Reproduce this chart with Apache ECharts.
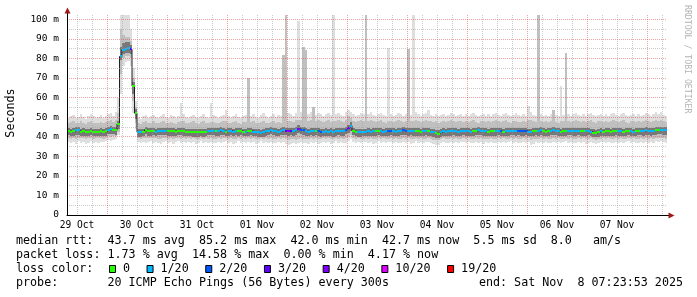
<!DOCTYPE html>
<html><head><meta charset="utf-8">
<script src="https://cdn.jsdelivr.net/npm/echarts@6/dist/echarts.min.js"></script>
<style>html,body{margin:0;padding:0;background:#fff}#c{width:697px;height:297px}</style>
</head><body><div id="c"></div>
<script>
// time axis in hours since 29 Oct 00:00, one value per hour
const startHour = 8;
const endHour = 248;
const dayLabels = ['29 Oct','30 Oct','31 Oct','01 Nov','02 Nov','03 Nov','04 Nov','05 Nov','06 Nov','07 Nov'];
const yLabelValues = [0,10,20,30,40,50,60,70,80,90,100];

const median = [
43.0,42.6,42.8,43.3,43.2,42.6,42.8,42.4,42.6,42.9,42.5,42.4,
42.6,42.8,42.5,42.7,43.6,43.7,43.4,43.3,46.5,81.0,84.5,85.0,
85.2,84.6,66.0,52.0,42.3,42.2,42.4,43.5,42.8,42.7,42.9,42.6,
43.0,43.1,42.9,43.0,42.8,42.7,42.8,42.6,42.9,43.0,42.8,42.6,
42.5,42.4,42.2,42.3,42.2,42.4,42.3,42.6,43.0,43.1,42.9,42.7,
42.8,43.2,43.0,42.6,42.8,43.0,42.6,42.9,42.7,43.0,42.6,42.4,
42.8,43.0,42.6,42.5,42.2,42.0,42.3,42.8,42.9,43.4,43.0,42.8,
42.6,42.9,43.2,43.0,42.9,43.1,42.8,43.4,44.2,43.6,43.2,42.8,
42.6,43.0,42.8,43.0,42.7,42.4,42.6,42.8,42.5,42.7,42.4,42.8,
43.0,42.8,42.9,43.6,44.6,45.6,43.0,42.6,42.2,42.4,42.6,42.5,
42.8,42.6,42.7,42.9,43.0,42.8,42.6,42.7,42.9,43.0,42.8,42.6,
42.9,43.0,43.2,43.1,42.8,43.0,42.8,42.9,42.7,42.6,42.8,43.0,
42.8,42.6,42.4,41.8,41.6,42.4,42.8,42.6,42.9,42.8,43.0,42.7,
42.6,42.8,43.0,42.9,42.7,42.5,42.8,43.0,43.2,43.0,42.8,42.7,
42.5,42.8,42.7,42.9,43.0,42.8,42.6,42.8,42.9,43.1,43.0,42.8,
43.0,42.8,42.9,43.0,42.6,42.5,42.8,43.0,42.9,43.2,42.8,42.6,
42.9,43.0,43.3,43.1,42.9,42.6,42.8,42.7,43.0,43.1,42.8,42.9,
43.0,42.7,42.9,42.8,43.0,42.6,42.1,41.9,42.3,42.8,42.6,42.7,
42.8,42.6,42.9,43.0,42.7,42.8,42.6,42.9,43.0,42.8,42.6,42.9,
43.0,43.1,42.9,43.2,43.0,42.8,43.0,43.3,43.5,43.6,43.4,43.3];

// lost pings out of 20
const lossCount = [
0,0,0,1,1,0,0,0,0,0,0,0,
0,0,0,0,1,1,0,0,0,1,1,1,
1,3,0,0,1,1,0,0,0,0,0,1,
1,1,1,1,0,0,0,0,0,0,0,0,
0,0,0,0,0,0,0,0,1,1,1,0,
1,1,1,0,1,1,1,1,0,0,0,1,
0,0,1,1,1,1,1,1,1,1,1,1,
1,1,1,3,4,3,1,1,4,2,2,1,
1,1,1,0,2,2,1,1,1,1,1,1,
1,1,1,2,3,1,0,0,1,1,1,1,
1,1,1,0,0,1,1,1,2,2,1,1,
1,1,2,2,1,1,1,0,0,0,1,1,
0,1,1,0,0,1,1,1,1,1,1,1,
1,1,1,1,1,1,0,0,1,1,1,1,
0,0,0,1,1,2,0,1,1,1,1,1,
2,2,2,2,1,1,0,0,1,1,0,0,
0,1,1,1,1,0,0,0,1,1,1,1,
1,0,0,1,1,1,0,0,0,1,0,0,
0,0,0,0,1,1,0,0,0,1,1,0,
0,1,1,1,1,1,1,0,0,1,1,1];

// smoke: outer (min/max of pings)
const smokeLo1 = [
37.5,36.8,37.2,36.5,37.8,36.9,37.4,36.2,37.0,37.6,36.8,37.3,
36.9,37.5,37.1,37.8,38.2,37.9,38.4,38.8,41.0,62.0,76.0,78.0,
78.5,76.0,52.0,44.0,37.5,36.8,37.4,36.6,37.2,37.8,36.9,37.4,
37.0,36.4,37.2,37.8,36.8,37.3,36.5,37.1,37.6,36.9,37.3,36.7,
37.2,36.8,37.5,36.4,37.0,37.7,36.9,37.2,36.6,37.4,37.0,36.8,
37.3,36.6,37.1,37.8,36.9,37.4,36.5,37.0,37.6,36.8,37.2,36.9,
37.5,36.7,37.2,36.4,37.0,37.6,36.8,37.3,36.9,37.5,37.0,36.6,
37.2,36.8,37.4,36.5,35.8,36.4,37.0,36.2,36.8,37.4,36.6,37.0,
36.5,37.2,36.8,37.4,36.3,36.9,37.5,36.7,37.2,36.5,37.0,37.6,
36.9,37.3,36.6,37.0,38.0,39.0,37.4,36.8,37.2,36.6,37.1,37.5,
36.8,37.2,36.5,37.0,37.6,36.9,37.3,36.7,37.1,37.5,36.8,37.2,
36.6,37.0,37.4,36.8,37.2,36.5,37.0,37.6,36.9,37.3,36.7,37.1,
37.4,36.8,36.2,35.8,36.0,36.8,37.2,36.6,37.0,37.5,36.9,37.3,
36.7,37.1,37.5,36.9,37.2,36.6,37.0,37.4,36.8,37.2,36.5,37.1,
36.8,37.3,36.6,37.0,37.5,36.8,37.2,36.6,37.1,37.6,36.9,37.2,
36.7,37.0,37.4,36.8,37.2,35.8,36.5,37.1,36.9,37.4,36.8,37.2,
36.6,37.0,37.5,36.9,37.3,36.7,37.1,37.6,36.8,37.2,36.6,37.0,
37.4,36.8,37.2,36.5,37.0,37.5,36.9,36.2,36.6,37.1,37.5,36.8,
37.2,36.6,37.0,37.4,36.8,37.3,36.7,37.1,37.6,36.9,37.2,36.6,
37.0,37.5,36.8,37.3,36.9,37.4,37.0,37.6,37.2,37.8,37.4,37.0];

const smokeHi1 = [
49.5,50.5,51.0,49.8,50.2,51.5,50.0,49.2,50.8,51.8,50.4,49.6,
50.2,51.0,49.8,50.6,51.5,52.0,50.8,52.5,60.0,102,102,102,
102,95.0,75.0,58.0,50.0,49.2,50.5,51.0,49.8,50.4,51.2,50.0,
49.6,50.8,51.5,50.2,49.8,51.0,50.4,49.5,50.6,57.0,51.8,50.2,
49.8,50.6,51.2,50.0,49.4,50.8,51.4,50.2,49.6,57.0,51.0,50.4,
49.8,50.6,51.2,53.5,50.4,49.6,50.8,51.4,50.0,49.5,50.6,51.0,
70.0,50.8,51.5,50.2,49.8,51.0,52.0,50.4,49.6,50.8,51.6,50.2,
51.0,50.4,82.0,102,52.0,51.4,50.8,52.2,99.0,52.5,86.0,84.5,
51.8,52.4,55.0,51.2,52.0,51.4,50.8,51.6,52.2,51.0,102,51.4,
52.0,51.2,50.8,52.4,53.5,52.8,51.6,50.8,51.2,52.0,51.4,102,
51.8,52.4,51.2,50.6,51.4,52.0,51.0,50.4,85.5,51.6,50.8,51.2,
52.0,51.4,50.6,51.8,85.0,51.2,102,52.4,51.6,50.8,51.4,52.0,
53.5,51.2,50.6,51.8,50.4,51.0,51.6,50.8,51.2,52.0,51.4,50.6,
51.2,51.8,50.6,51.4,50.8,51.6,52.2,51.0,50.4,51.2,51.8,50.6,
51.4,50.8,51.6,52.0,51.2,50.6,51.4,52.2,51.0,50.4,51.2,52.0,
51.0,50.6,51.4,50.8,55.6,52.4,51.2,50.8,102,51.4,50.6,51.2,
50.8,51.6,53.5,51.0,50.4,66.0,51.2,83.0,51.4,50.8,51.6,52.0,
51.2,50.6,51.4,50.8,51.6,52.2,51.0,50.4,51.2,51.8,50.6,51.4,
50.8,51.6,52.0,51.2,50.6,51.4,52.2,51.0,50.4,51.2,51.8,50.8,
51.4,50.6,51.2,52.0,51.4,50.8,51.6,52.4,51.8,52.6,51.2,50.8];

// smoke: middle band
const smokeLo2 = [
39.4,39.0,39.2,38.8,39.6,39.1,39.3,38.7,39.2,39.5,39.0,39.3,
39.1,39.4,39.0,39.6,40.2,40.0,40.4,40.6,42.5,72.0,80.0,81.0,
81.0,80.0,58.0,47.0,39.2,38.8,39.2,39.6,39.2,39.5,39.1,39.3,
39.0,38.7,39.2,39.5,38.9,39.3,38.8,39.1,39.4,39.0,39.3,38.8,
39.1,38.8,39.3,38.6,39.0,39.4,38.9,39.2,38.8,39.3,39.0,38.9,
39.2,38.8,39.1,39.5,38.9,39.3,38.7,39.0,39.4,38.9,39.1,38.9,
39.3,38.8,39.1,38.6,39.0,39.4,38.9,39.2,39.0,39.4,39.0,38.8,
39.1,38.9,39.2,38.7,38.2,38.6,39.0,38.5,38.9,39.3,38.8,39.0,
38.7,39.1,38.9,39.3,38.6,38.9,39.3,38.8,39.1,38.7,39.0,39.4,
39.0,39.2,38.8,39.2,40.0,40.8,39.3,38.9,39.1,38.8,39.0,39.3,
38.9,39.1,38.7,39.0,39.4,38.9,39.2,38.8,39.0,39.3,38.9,39.1,
38.8,39.0,39.3,38.9,39.1,38.7,39.0,39.4,38.9,39.2,38.8,39.0,
39.3,38.9,38.5,38.2,38.3,38.9,39.1,38.8,39.0,39.3,38.9,39.2,
38.8,39.0,39.3,38.9,39.1,38.8,39.0,39.3,38.9,39.1,38.7,39.0,
38.9,39.2,38.8,39.0,39.3,38.9,39.1,38.8,39.0,39.4,39.0,39.1,
38.8,39.0,39.3,38.9,39.1,38.3,38.7,39.0,38.9,39.3,38.9,39.1,
38.8,39.0,39.3,38.9,39.2,38.8,39.0,39.4,38.9,39.1,38.8,39.0,
39.3,38.9,39.1,38.7,39.0,39.3,38.9,38.5,38.8,39.0,39.3,38.9,
39.1,38.8,39.0,39.3,38.9,39.2,38.8,39.0,39.4,39.0,39.1,38.8,
39.0,39.3,38.9,39.2,39.0,39.3,39.0,39.4,39.2,39.6,39.3,39.0];

const smokeHi2 = [
46.8,47.4,47.8,47.0,47.2,48.0,47.0,46.6,47.6,48.2,47.2,46.8,
47.2,47.6,46.9,47.4,48.0,48.4,47.6,48.8,52.0,95.0,92.0,91.0,
91.0,89.0,70.0,55.0,47.0,46.6,47.4,47.8,46.9,47.2,47.8,47.0,
46.8,47.5,48.0,47.2,46.9,47.6,47.2,46.7,47.4,48.0,48.2,47.1,
46.9,47.4,47.8,47.0,46.6,47.5,47.9,47.1,46.8,47.6,47.7,47.2,
46.9,47.4,47.8,48.2,47.2,46.8,47.5,47.9,47.0,46.7,47.4,47.7,
70.0,47.5,48.0,47.1,46.9,47.6,48.0,47.2,46.8,47.5,48.0,47.1,
47.6,47.2,82.0,102,48.2,47.8,47.5,48.4,48.8,48.6,86.0,84.5,
48.2,48.6,55.0,47.8,48.4,48.0,47.6,48.0,48.4,47.7,48.0,47.9,
48.3,47.8,47.5,48.6,50.5,49.6,48.0,47.5,47.8,48.3,47.9,102,
48.0,48.5,47.8,47.4,47.9,48.3,47.6,47.2,48.2,48.0,47.5,47.8,
48.3,47.9,47.4,48.1,85.0,47.8,48.2,48.5,48.0,47.5,47.9,48.3,
48.0,47.8,47.4,48.1,47.2,47.6,48.0,47.5,47.8,48.3,47.9,47.4,
47.8,48.2,47.4,47.9,47.5,48.0,48.4,47.6,47.2,47.8,48.2,47.4,
47.9,47.5,48.0,48.3,47.8,47.4,47.9,48.4,47.6,47.2,47.8,48.2,
47.6,47.4,47.9,47.5,48.6,48.4,47.8,47.5,102,47.9,47.4,47.8,
47.5,48.0,53.5,47.6,47.2,48.2,47.8,83.0,47.9,47.5,48.0,48.3,
47.8,47.4,47.9,47.5,48.0,48.4,47.6,47.2,47.8,48.2,47.4,47.9,
47.5,48.0,48.3,47.8,47.4,47.9,48.4,47.6,47.2,47.8,48.2,47.5,
47.9,47.4,47.8,48.3,47.9,47.5,48.0,48.5,48.2,48.7,47.8,47.5];

// smoke: dark core
const smokeLo3 = [
40.8,40.4,40.6,41.0,41.0,40.4,40.6,40.2,40.4,40.7,40.3,40.2,
40.4,40.6,40.3,40.5,41.4,41.5,41.2,41.1,44.0,79.0,82.5,83.0,
83.0,82.5,62.0,49.0,40.1,40.0,40.2,41.3,40.6,40.5,40.7,40.4,
40.8,40.9,40.7,40.8,40.6,40.5,40.6,40.4,40.7,40.8,40.6,40.4,
40.3,40.2,40.0,40.1,40.0,40.2,40.1,40.4,40.8,40.9,40.7,40.5,
40.6,41.0,40.8,40.4,40.6,40.8,40.4,40.7,40.5,40.8,40.4,40.2,
40.6,40.8,40.4,40.3,40.0,39.8,40.1,40.6,40.7,41.2,40.8,40.6,
40.4,40.7,41.0,40.8,40.5,40.8,40.5,41.0,41.8,41.2,40.8,40.4,
40.3,40.7,40.5,40.7,40.4,40.1,40.3,40.5,40.2,40.4,40.1,40.5,
40.7,40.5,40.6,41.2,42.0,42.8,40.7,40.3,39.9,40.1,40.3,40.2,
40.5,40.3,40.4,40.6,40.7,40.5,40.3,40.4,40.6,40.7,40.5,40.3,
40.6,40.7,40.9,40.8,40.5,40.7,40.5,40.6,40.4,40.3,40.5,40.7,
40.5,40.3,40.1,39.6,39.4,40.1,40.5,40.3,40.6,40.5,40.7,40.4,
40.3,40.5,40.7,40.6,40.4,40.2,40.5,40.7,40.9,40.7,40.5,40.4,
40.2,40.5,40.4,40.6,40.7,40.5,40.3,40.5,40.6,40.8,40.7,40.5,
40.7,40.5,40.6,40.7,40.3,40.2,40.5,40.7,40.6,40.9,40.5,40.3,
40.6,40.7,41.0,40.8,40.6,40.3,40.5,40.4,40.7,40.8,40.5,40.6,
40.7,40.4,40.6,40.5,40.7,40.3,39.9,39.7,40.0,40.5,40.3,40.4,
40.5,40.3,40.6,40.7,40.4,40.5,40.3,40.6,40.7,40.5,40.3,40.6,
40.7,40.8,40.6,40.9,40.7,40.5,40.7,41.0,41.2,41.3,41.1,41.0];

const smokeHi3 = [
44.6,44.2,44.4,44.9,44.8,44.2,44.4,44.0,44.2,44.5,44.1,44.0,
44.2,44.4,44.1,44.3,45.2,45.3,45.0,45.0,48.0,86.0,88.0,88.5,
88.5,87.0,68.0,54.0,43.9,43.8,44.0,45.1,44.4,44.3,44.5,44.2,
44.6,44.7,44.5,44.6,44.4,44.3,44.4,44.2,44.5,44.6,44.4,44.2,
44.1,44.0,43.8,43.9,43.8,44.0,43.9,44.2,44.6,44.7,44.5,44.3,
44.4,44.8,44.6,44.2,44.4,44.6,44.2,44.5,44.3,44.6,44.2,44.0,
44.4,44.6,44.2,44.1,43.8,43.6,43.9,44.4,44.5,45.0,44.6,44.4,
44.2,44.5,44.8,44.6,44.5,44.7,44.4,45.0,45.8,45.2,44.8,44.4,
44.2,44.6,44.4,44.6,44.3,44.0,44.2,44.4,44.1,44.3,44.0,44.4,
44.6,44.4,44.5,45.2,46.2,47.4,44.6,44.2,43.8,44.0,44.2,44.1,
44.4,44.2,44.3,44.5,44.6,44.4,44.2,44.3,44.5,44.6,44.4,44.2,
44.5,44.6,44.8,44.7,44.4,44.6,44.4,44.5,44.3,44.2,44.4,44.6,
44.4,44.2,44.0,43.4,43.2,44.0,44.4,44.2,44.5,44.4,44.6,44.3,
44.2,44.4,44.6,44.5,44.3,44.1,44.4,44.6,44.8,44.6,44.4,44.3,
44.1,44.4,44.3,44.5,44.6,44.4,44.2,44.4,44.5,44.7,44.6,44.4,
44.6,44.4,44.5,44.6,44.2,44.1,44.4,44.6,44.5,44.8,44.4,44.2,
44.5,44.6,44.9,44.7,44.5,44.2,44.4,44.3,44.6,44.7,44.4,44.5,
44.6,44.3,44.5,44.4,44.6,44.2,43.7,43.5,43.9,44.4,44.2,44.3,
44.4,44.2,44.5,44.6,44.3,44.4,44.2,44.5,44.6,44.4,44.2,44.5,
44.6,44.7,44.5,44.8,44.6,44.4,44.6,44.9,45.1,45.2,45.0,44.9];

const lossLabels = ['0','1/20','2/20','3/20','4/20','10/20','19/20'];
const lossThresholds = [0,1,2,3,4,10,19];
const lossColors = ['#26ff00','#00b8ff','#0059ff','#5e00ff','#7e00ff','#dd00ff','#ff0000'];

const legendLine1 = 'median rtt:  43.7 ms avg  85.2 ms max  42.0 ms min  42.7 ms now  5.5 ms sd  8.0   am/s';
const legendLine2 = 'packet loss: 1.73 % avg  14.58 % max  0.00 % min  4.17 % now';
const legendLine3 = 'loss color:';
const legendLine4 = 'probe:       20 ICMP Echo Pings (56 Bytes) every 300s';
const legendEnd = 'end: Sat Nov  8 07:23:53 2025';

// ---------- build ----------
const FONT = '"DejaVu Sans Mono", monospace';
const CW = 7.05;
function lossColor(n){ let c = lossColors[0]; for (let k=0;k<lossThresholds.length;k++){ if (n>=lossThresholds[k]) c = lossColors[k]; } return c; }

const smokeData = median.map((m,i)=>[startHour+i, smokeLo1[i], smokeHi1[i], smokeLo2[i], smokeHi2[i], smokeLo3[i], smokeHi3[i], m, lossCount[i]]);
const medianLine = median.map((m,i)=>[startHour+i, m]);
medianLine.push([endHour, median[median.length-1]]);

// grid positions: minor every 6 h, major at midnight; y minor every 5, major every 10
const xMinor = [], xMajor = [];
for (let h=12; h<endHour; h+=6) { if (h % 24 === 0) xMajor.push(h); else xMinor.push(h); }
const labelHours = dayLabels.map((d,i)=>12+24*i);
const yMinor = [], yMajor = [];
for (let v=5; v<=100; v+=5) { if (v % 10 === 0) yMajor.push(v); else yMinor.push(v); }

const GRID_MINOR = 'rgba(160,160,160,0.55)';
const GRID_MAJOR = 'rgba(225,70,70,0.5)';

function rectFor(api, h, lo, hi, fill){
  const x0 = Math.round(api.coord([h, lo])[0]);
  const x1 = Math.round(api.coord([h+1, lo])[0]);
  const yT = Math.round(api.coord([h, hi])[1]);
  const yB = Math.round(api.coord([h, lo])[1]);
  return {type:'rect', shape:{x:x0, y:yT, width:x1-x0, height:Math.max(1, yB-yT)}, style:{fill:fill}};
}

const graphics = [];
function txt(x, y, s, extra){ graphics.push(Object.assign({type:'text', x:x, y:y, silent:true, style:{text:s, font:'11.7px '+FONT, fill:'#000', verticalAlign:'middle', textVerticalAlign:'middle'}}, extra||{})); }
txt(16, 241, legendLine1);
txt(16, 255, legendLine2);
txt(16, 269, legendLine3);
txt(16, 283, legendLine4);
graphics.push({type:'text', x:683, y:283, silent:true, style:{text:legendEnd, font:'11.7px '+FONT, fill:'#000', align:'right', textAlign:'right', verticalAlign:'middle', textVerticalAlign:'middle'}});
let lx = 109;
lossLabels.forEach((lab,k)=>{
  graphics.push({type:'rect', silent:true, shape:{x:lx+0.5, y:265.5, width:6, height:7}, style:{fill:lossColors[k], stroke:'#000', lineWidth:1}});
  txt(lx+14, 269, lab);
  lx += 14 + lab.length*CW + 16.5;
});
// y axis title and watermark
graphics.push({type:'text', x:11, y:113, rotation:Math.PI/2, silent:true, style:{text:'Seconds', font:'11.7px '+FONT, fill:'#000', align:'center', textAlign:'center', verticalAlign:'middle', textVerticalAlign:'middle'}});
graphics.push({type:'text', x:687, y:5, rotation:-Math.PI/2, silent:true, style:{text:'RRDTOOL / TOBI OETIKER', font:'8.2px '+FONT, fill:'#b4b4b4', align:'left', textAlign:'left', verticalAlign:'middle', textVerticalAlign:'middle'}});
// axis extensions and arrows
graphics.push({type:'line', silent:true, z:10, shape:{x1:67.5, y1:15, x2:67.5, y2:11}, style:{stroke:'#000', lineWidth:1}});
graphics.push({type:'line', silent:true, z:10, shape:{x1:667, y1:215.5, x2:670, y2:215.5}, style:{stroke:'#000', lineWidth:1}});
graphics.push({type:'polygon', silent:true, z:11, shape:{points:[[64.5,13.5],[70.5,13.5],[67.5,7.5]]}, style:{fill:'#a01818'}});
graphics.push({type:'polygon', silent:true, z:11, shape:{points:[[668.5,212.5],[668.5,218.5],[674.5,215.5]]}, style:{fill:'#a01818'}});

const DOT = {type:[1,1], width:1};
const chart = echarts.init(document.getElementById('c'), null, {renderer:'canvas', width:697, height:297});
chart.setOption({
  animation:false,
  backgroundColor:'#ffffff',
  grid:{left:67, right:30, top:15, bottom:82, containLabel:false, outerBoundsMode:'none'},
  xAxis:[
    {type:'value', min:startHour, max:endHour, z:5,
      axisLine:{show:true, onZero:false, lineStyle:{color:'#000', width:1}},
      axisTick:{show:false, customValues:xMinor},
      axisLabel:{customValues:labelHours, formatter:(v)=>dayLabels[Math.round((v-12)/24)], color:'#000', fontFamily:'DejaVu Sans Mono', fontSize:9.6, margin:5},
      splitLine:{show:true, lineStyle:Object.assign({color:GRID_MINOR}, DOT)}
    },
    {type:'value', min:startHour, max:endHour, z:5, position:'top',
      axisLine:{show:false}, axisTick:{show:false, customValues:xMajor}, axisLabel:{show:false},
      splitLine:{show:true, lineStyle:Object.assign({color:GRID_MAJOR}, DOT)}
    }
  ],
  yAxis:[
    {type:'value', min:0, max:102.2, z:5,
      axisLine:{show:true, onZero:false, lineStyle:{color:'#000', width:1}},
      axisTick:{show:false, customValues:yMinor},
      axisLabel:{customValues:yLabelValues, formatter:(v)=> v===0 ? '0' : v+' m', color:'#000', fontFamily:'DejaVu Sans Mono', fontSize:9.5, margin:8},
      splitLine:{show:true, lineStyle:Object.assign({color:GRID_MINOR}, DOT)}
    },
    {type:'value', min:0, max:102.2, z:5, position:'right',
      axisLine:{show:false}, axisTick:{show:false, customValues:yMajor}, axisLabel:{show:false},
      splitLine:{show:true, lineStyle:Object.assign({color:GRID_MAJOR}, DOT)}
    }
  ],
  series:[
    {type:'custom', name:'smoke', z:1, silent:true, data:smokeData, xAxisIndex:0, yAxisIndex:0,
      renderItem:(params, api)=>{
        const h = api.value(0);
        return {type:'group', children:[
          rectFor(api, h, api.value(1), api.value(2), '#dedede'),
          rectFor(api, h, api.value(3), api.value(4), '#c0c0c0'),
          rectFor(api, h, api.value(5), api.value(6), '#787878')
        ]};
      }},
    {type:'line', name:'median', z:2, silent:true, data:medianLine, step:'end', symbol:'none', xAxisIndex:0, yAxisIndex:0, lineStyle:{color:'#202020', width:1}},
    {type:'custom', name:'loss', z:3, silent:true, data:smokeData, xAxisIndex:0, yAxisIndex:0,
      renderItem:(params, api)=>{
        const h = api.value(0);
        const p0 = api.coord([h, api.value(7)]);
        const x0 = Math.round(p0[0]);
        const x1 = Math.round(api.coord([h+1, api.value(7)])[0]);
        const y = Math.round(p0[1]);
        return {type:'rect', shape:{x:x0, y:y-1, width:x1-x0, height:2}, style:{fill:lossColor(api.value(8))}};
      }}
  ],
  graphic:{elements:graphics}
});
</script>
</body></html>
